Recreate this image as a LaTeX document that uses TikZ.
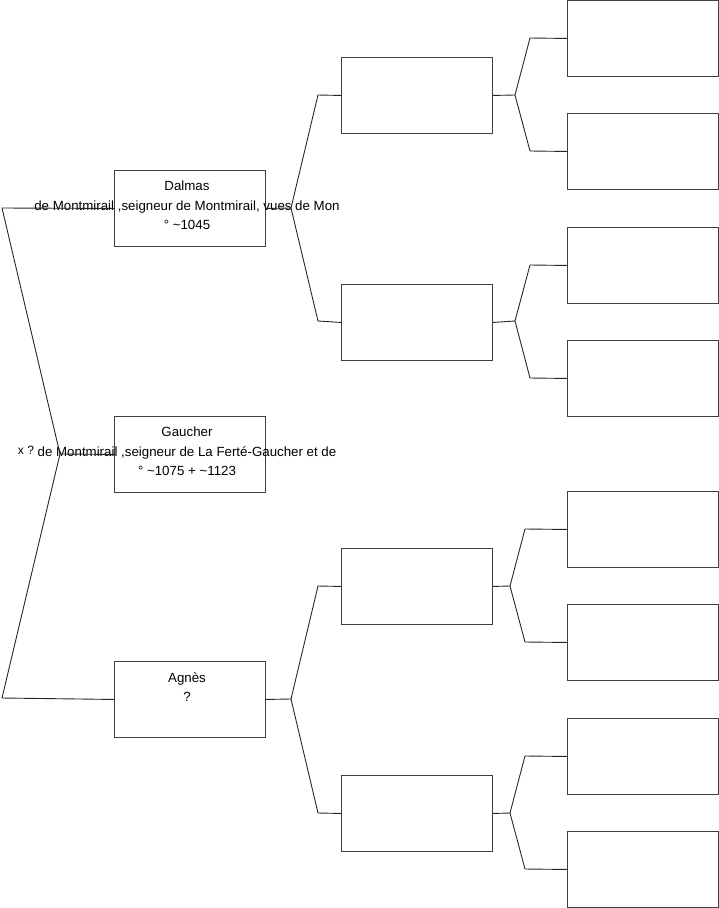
\documentclass[tikz,border=0pt]{standalone}
\usepackage{fontspec}
\setmainfont{Liberation Sans}
\begin{document}
\begin{tikzpicture}[x=1pt,y=-1pt,
  pbox/.style={draw=black!75,line width=0.9pt,minimum width=151pt,minimum height=76pt,inner sep=0pt,anchor=north west},
  ptext/.style={font=\fontsize{13.3}{19.5}\selectfont,align=center,anchor=north,inner sep=0pt},
  conn/.style={draw=black!85,line width=0.9pt}]
\useasboundingbox (0,0) rectangle (719,908);
% level 1
\node[pbox] (dalmas) at (114,170) {};
\node[pbox] (gaucher) at (114,416) {};
\node[pbox] (agnes) at (114,661) {};
% level 2
\node[pbox] (b1) at (341,57) {};
\node[pbox] (b2) at (341,284) {};
\node[pbox] (b3) at (341,548) {};
\node[pbox] (b4) at (341,775) {};
% level 3
\node[pbox] (c1) at (567,0) {};
\node[pbox] (c2) at (567,113) {};
\node[pbox] (c3) at (567,227) {};
\node[pbox] (c4) at (567,340) {};
\node[pbox] (c5) at (567,491) {};
\node[pbox] (c6) at (567,604) {};
\node[pbox] (c7) at (567,718) {};
\node[pbox] (c8) at (567,831) {};
% texts
\node[ptext] (tdalmas) at (187,181) {Dalmas\\de Montmirail ,seigneur de Montmirail, vues de Mon\\° \textasciitilde1045};
\node[ptext] (tgaucher) at (187,427) {Gaucher\\de Montmirail ,seigneur de La Ferté-Gaucher et de\\° \textasciitilde1075 + \textasciitilde1123};
\node[ptext] (tagnes) at (187,672) {Agnès\\?};
\node[font=\fontsize{12}{14}\selectfont,inner sep=0pt] (xq) at (26,450) {x ?};
% connectors
\coordinate (m0) at (60,454);
\coordinate (m1) at (2,208);
\coordinate (m2) at (2,698);
\draw[conn] (gaucher.west) -- (m0) -- (m1) -- (dalmas.west);
\draw[conn] (m0) -- (m2) -- (agnes.west);
% dalmas fork
\coordinate (f1) at (291,208);
\draw[conn] (dalmas.east) -- (f1) -- (318,95) -- (b1.west);
\draw[conn] (f1) -- (318,321) -- (b2.west);
% agnes fork
\coordinate (f2) at (291,699);
\draw[conn] (agnes.east) -- (f2) -- (318,586) -- (b3.west);
\draw[conn] (f2) -- (318,813) -- (b4.west);
% level 2 forks
\coordinate (g1) at (515,95);
\draw[conn] (b1.east) -- (g1) -- (530,38) -- (c1.west);
\draw[conn] (g1) -- (530,151) -- (c2.west);
\coordinate (g2) at (515,321);
\draw[conn] (b2.east) -- (g2) -- (530,265) -- (c3.west);
\draw[conn] (g2) -- (530,378) -- (c4.west);
\coordinate (g3) at (510,586);
\draw[conn] (b3.east) -- (g3) -- (525,529) -- (c5.west);
\draw[conn] (g3) -- (525,642) -- (c6.west);
\coordinate (g4) at (510,813);
\draw[conn] (b4.east) -- (g4) -- (525,756) -- (c7.west);
\draw[conn] (g4) -- (525,869) -- (c8.west);
\end{tikzpicture}
\end{document}
